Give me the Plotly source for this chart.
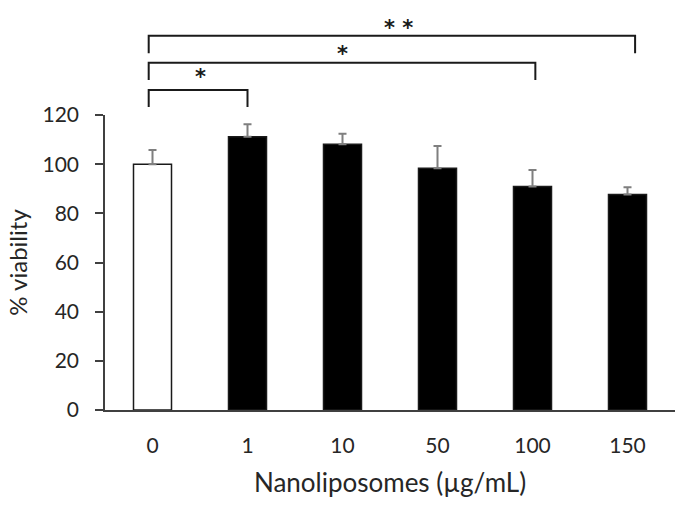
import plotly.graph_objects as go

categories = ["0", "1", "10", "50", "100", "150"]
viability = [100.0, 111.2, 108.1, 98.3, 90.9, 87.7]
sd_plus = [5.8, 5.0, 4.3, 9.1, 6.7, 2.9]
bar_colors = ["white", "black", "black", "black", "black", "black"]
y_ticks = [0, 20, 40, 60, 80, 100, 120]

# significance comparisons: (left x, right x, label, label x)
comparisons = [
    (-0.04, 1.0, "*", 0.5),
    (-0.04, 4.03, "*", 2.0),
    (-0.04, 5.08, "* *", 2.59),
]
# paper-y levels for each comparison: (top, bottom, label)
levels = [
    (1.085, 1.027, 1.130),
    (1.177, 1.119, 1.208),
    (1.269, 1.209, 1.295),
]

FONT = "Lato"
TXT = "#262626"
AX = "#404040"

fig = go.Figure()
fig.add_trace(go.Bar(
    x=list(range(len(categories))),
    y=viability,
    width=0.4,
    marker=dict(color=bar_colors, line=dict(color="#1a1a1a", width=1.5)),
    error_y=dict(type="data", symmetric=False, array=sd_plus,
                 arrayminus=[0] * len(sd_plus), color="#7f7f7f",
                 thickness=2, width=4),
    showlegend=False,
))

shapes = []
annotations = []
for (x0, x1, lab, lx), (yt, yb, ly) in zip(comparisons, levels):
    shapes.append(dict(
        type="path", xref="x", yref="paper",
        path=f"M {x0},{yb} L {x0},{yt} L {x1},{yt} L {x1},{yb}",
        line=dict(color="#1a1a1a", width=2),
    ))
    annotations.append(dict(
        x=lx, y=ly, xref="x", yref="paper", text=f"<b>{lab}</b>", showarrow=False,
        font=dict(family="DejaVu Sans", size=21, color="#1a1a1a"),
        xanchor="center", yanchor="middle",
    ))

fig.update_layout(
    width=684, height=506,
    margin=dict(l=105, r=9, t=115, b=96),
    paper_bgcolor="white", plot_bgcolor="white",
    font=dict(family=FONT, color=TXT, size=21),
    shapes=shapes, annotations=annotations,
    xaxis=dict(
        range=[-0.5, 5.5], automargin=False,
        tickmode="array", tickvals=list(range(len(categories))), ticktext=categories,
        showline=True, linecolor=AX, linewidth=1.5,
        ticks="", showgrid=False, zeroline=False,
        ticklabelstandoff=16,
        tickfont=dict(size=21, color=TXT),
        title=dict(text="Nanoliposomes (µg/mL)", font=dict(size=26, color=TXT), standoff=18),
    ),
    yaxis=dict(
        range=[0, 120], automargin=False,
        tickmode="array", tickvals=y_ticks,
        showline=True, linecolor=AX, linewidth=1.5,
        ticks="outside", ticklen=8, tickcolor=AX, tickwidth=1.5,
        showgrid=False, zeroline=False,
        ticklabelstandoff=12,
        tickfont=dict(size=21, color=TXT),
        title=dict(text="% viability", font=dict(size=24, color=TXT), standoff=8),
    ),
)

fig.write_html("out.html", config={"displayModeBar": False},
               post_script="document.body.style.margin='0';")
